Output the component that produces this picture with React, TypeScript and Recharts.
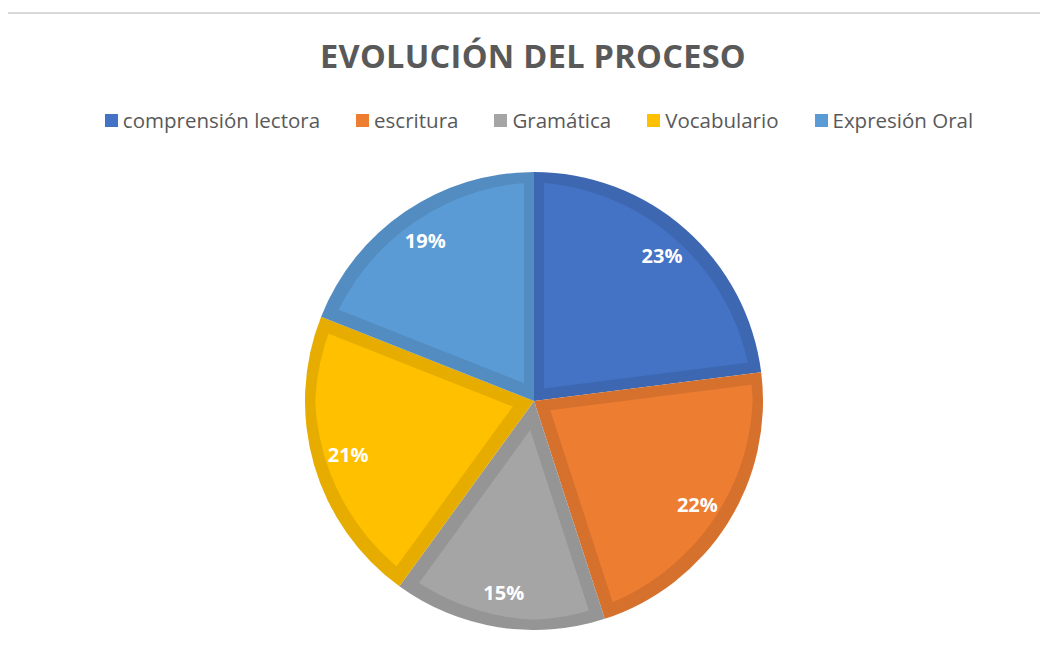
import React from 'react';
import { PieChart, Pie, Cell, Legend } from 'recharts';

const categories = ['comprensión lectora', 'escritura', 'Gramática', 'Vocabulario', 'Expresión Oral'];
const values = [23, 22, 15, 21, 19];
const COLORS = ['#4472C4', '#ED7D31', '#A5A5A5', '#FFC000', '#5B9BD5'];

const data = categories.map((name, i) => ({ name, value: values[i] }));

const FONT = '"Open Sans", "Noto Sans", sans-serif';
const RADIAN = Math.PI / 180;

const renderLabel = ({ cx, cy, midAngle, outerRadius, percent }: any) => {
  const r = outerRadius * 0.845;
  const x = cx + r * Math.cos(-midAngle * RADIAN);
  const y = cy + r * Math.sin(-midAngle * RADIAN);
  return (
    <text x={x} y={y} fill="#fff" textAnchor="middle" dominantBaseline="central"
      fontFamily={FONT} fontWeight={700} fontSize={20}>
      {`${Math.round(percent * 100)}%`}
    </text>
  );
};

const LegendContent = ({ payload }: any) => {
  const items = [...(payload || [])].sort(
    (a: any, b: any) => categories.indexOf(a.value) - categories.indexOf(b.value)
  );
  return (
    <div style={{ display: 'flex', justifyContent: 'center', gap: 36, fontFamily: FONT, fontSize: 20.5, color: '#595959' }}>
      {items.map((p: any, i: number) => (
        <div key={i} style={{ display: 'flex', alignItems: 'center' }}>
          <span style={{ display: 'inline-block', width: 13, height: 13, background: p.color, marginRight: 5 }} />
          <span>{p.value}</span>
        </div>
      ))}
    </div>
  );
};

export default function App() {
  return (
    <div style={{ position: 'relative', width: 1048, height: 652, margin: -8, background: '#fff', overflow: 'hidden' }}>
      <svg width={0} height={0} style={{ position: 'absolute' }}>
        <defs>
          <filter id="innerBorder" x="-10%" y="-10%" width="120%" height="120%" colorInterpolationFilters="sRGB">
            <feColorMatrix in="SourceGraphic" type="matrix"
              values="0.9 0 0 0 0  0 0.9 0 0 0  0 0 0.9 0 0  0 0 0 1 0" result="dark" />
            <feMorphology in="SourceGraphic" operator="erode" radius={10} result="inner" />
            <feMerge>
              <feMergeNode in="dark" />
              <feMergeNode in="inner" />
            </feMerge>
          </filter>
        </defs>
      </svg>
      <div style={{ position: 'absolute', left: 6, top: 12, width: 1100, height: 700, borderTop: '2px solid #d9d9d9', borderLeft: '2px solid #d9d9d9' }} />
      <div style={{ position: 'absolute', left: 0, top: 33, width: 1066, textAlign: 'center', fontFamily: FONT, fontWeight: 700, fontSize: 32.5, color: '#595959', letterSpacing: 0.3 }}>
        EVOLUCIÓN DEL PROCESO
      </div>
      <div style={{ position: 'absolute', left: 0, top: 0 }}>
        <PieChart width={1048} height={652}>
          <Legend verticalAlign="top" content={<LegendContent />} wrapperStyle={{ top: 106, left: 0, width: 1078 }} />
          <Pie
            data={data}
            dataKey="value"
            nameKey="name"
            cx={529}
            cy={368}
            outerRadius={229}
            startAngle={90}
            endAngle={-270}
            stroke="none"
            label={renderLabel}
            labelLine={false}
            isAnimationActive={false}
          >
            {data.map((_, i) => (
              <Cell key={i} fill={COLORS[i]} filter="url(#innerBorder)" />
            ))}
          </Pie>
        </PieChart>
      </div>
    </div>
  );
}
